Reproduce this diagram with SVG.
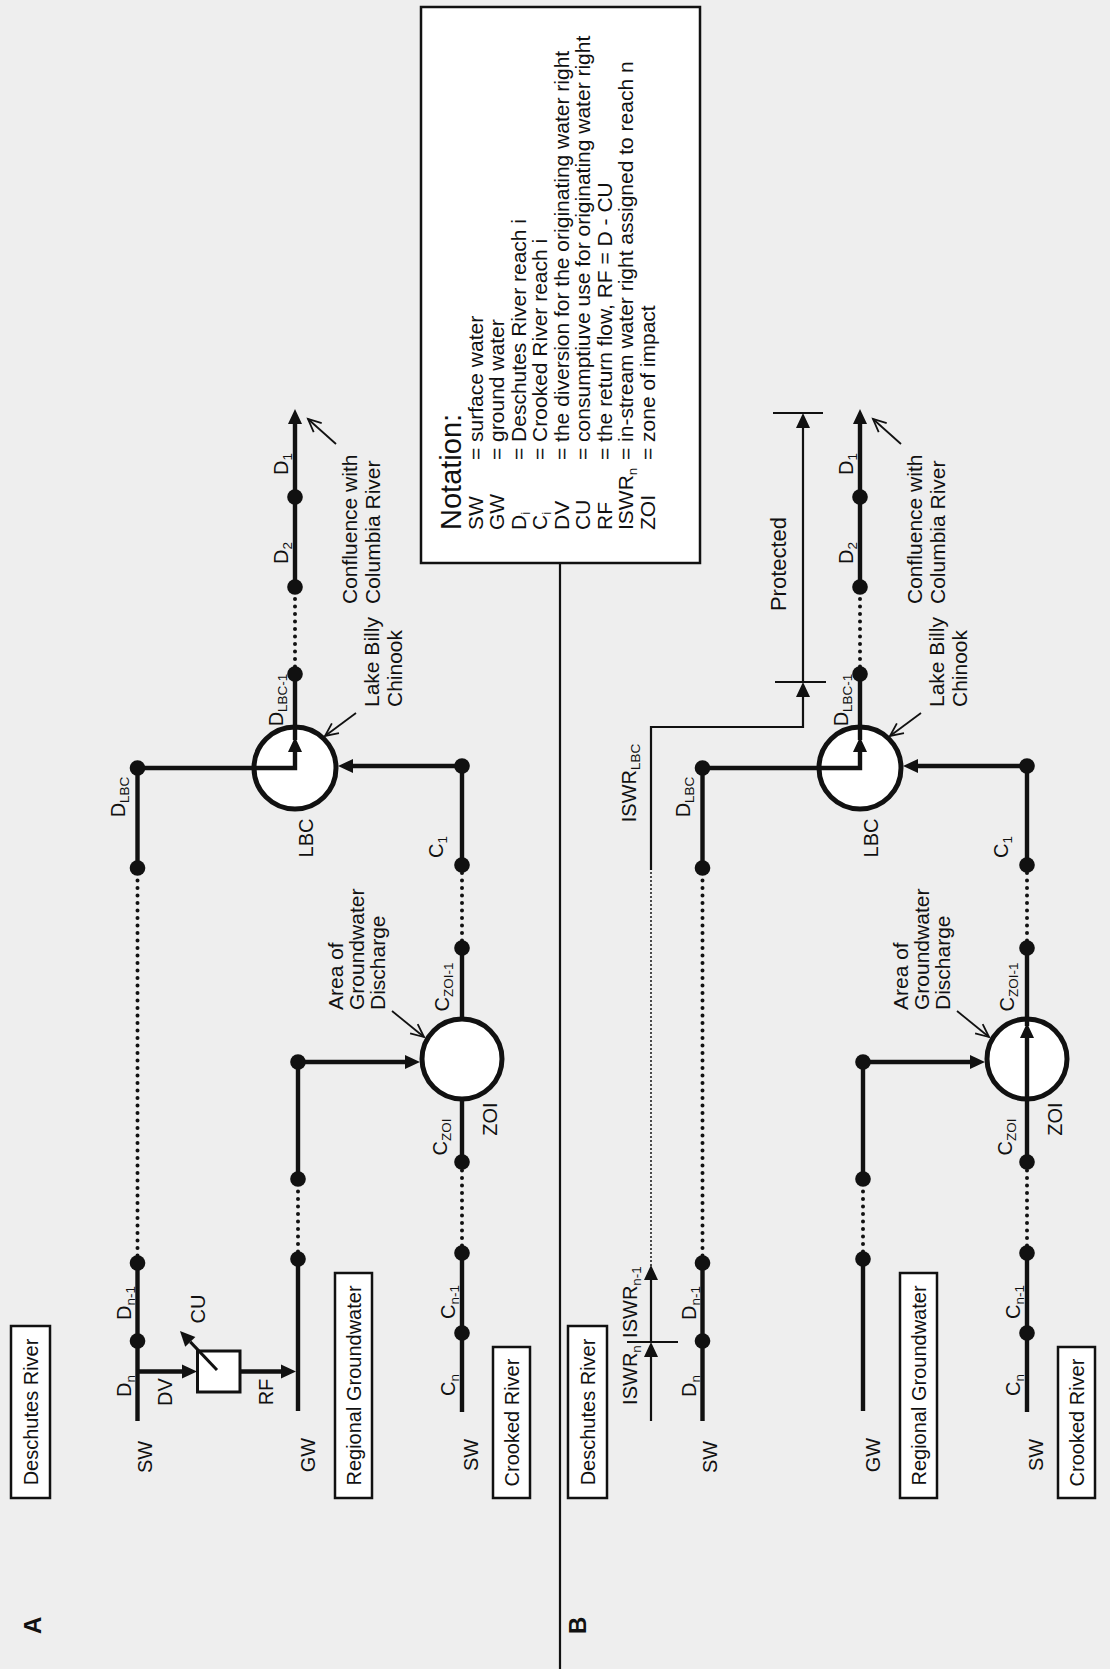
<svg xmlns="http://www.w3.org/2000/svg" width="1110" height="1669" viewBox="0 0 1110 1669">
<defs>
<style>
.ln{stroke:#111;stroke-width:4.4;fill:none}
.dt{stroke:#111;stroke-width:4;fill:none;stroke-dasharray:0 7.5;stroke-linecap:round}
.th{stroke:#111;stroke-width:2.2;fill:none}
.tdt{stroke:#111;stroke-width:2;fill:none;stroke-dasharray:0 4;stroke-linecap:round}
.ptr{stroke:#111;stroke-width:1.8;fill:none}
.nd{fill:#111}
.circ{fill:#fff;stroke:#111;stroke-width:5}
.bx{fill:#fff;stroke:#111;stroke-width:2.5}
.t{font-family:"Liberation Sans",Arial,sans-serif;font-size:20px;fill:#111}
.tb{font-size:20px}
.tl{font-size:21px}
.tn{font-size:21px}
.tt{font-size:29px}
.tp{font-size:22px}
.sub{font-size:13.5px}
.big{font-weight:bold;font-size:24px}
.m{text-anchor:middle}
</style>
<marker id="ah" markerUnits="userSpaceOnUse" markerWidth="16" markerHeight="14" refX="0" refY="7" orient="auto" overflow="visible"><path d="M0,0 L15,7 L0,14 Z" fill="#111"/></marker>
<marker id="op" markerUnits="userSpaceOnUse" markerWidth="14" markerHeight="14" refX="13" refY="6" orient="auto" overflow="visible"><path d="M0,0 L13,6 L0,12" fill="none" stroke="#111" stroke-width="1.8"/></marker>
</defs>
<rect x="0" y="0" width="1110" height="1669" fill="#eeeeee"/>

<!-- Notation box -->
<g id="notation">
<rect class="bx" x="421" y="7" width="279" height="556"/>
<text class="t tt" x="461" y="530" transform="rotate(-90 461 530)">Notation:</text>
<text class="t tn" x="482.5" y="530" transform="rotate(-90 482.5 530)">SW</text>
<text class="t tn" x="482.5" y="460" transform="rotate(-90 482.5 460)">= surface water</text>
<text class="t tn" x="504" y="530" transform="rotate(-90 504 530)">GW</text>
<text class="t tn" x="504" y="460" transform="rotate(-90 504 460)">= ground water</text>
<text class="t tn" x="525.5" y="530" transform="rotate(-90 525.5 530)">D<tspan class="sub" dy="4">i</tspan></text>
<text class="t tn" x="525.5" y="460" transform="rotate(-90 525.5 460)">= Deschutes River reach i</text>
<text class="t tn" x="547" y="530" transform="rotate(-90 547 530)">C<tspan class="sub" dy="4">i</tspan></text>
<text class="t tn" x="547" y="460" transform="rotate(-90 547 460)">= Crooked River reach i</text>
<text class="t tn" x="568.5" y="530" transform="rotate(-90 568.5 530)">DV</text>
<text class="t tn" x="568.5" y="460" transform="rotate(-90 568.5 460)">= the diversion for the originating water right</text>
<text class="t tn" x="590" y="530" transform="rotate(-90 590 530)">CU</text>
<text class="t tn" x="590" y="460" transform="rotate(-90 590 460)">= consumptiuve use for originating water right</text>
<text class="t tn" x="611.5" y="530" transform="rotate(-90 611.5 530)">RF</text>
<text class="t tn" x="611.5" y="460" transform="rotate(-90 611.5 460)">= the return flow, RF = D - CU</text>
<text class="t tn" x="633" y="530" transform="rotate(-90 633 530)">ISWR<tspan class="sub" dy="4">n</tspan></text>
<text class="t tn" x="633" y="460" transform="rotate(-90 633 460)">= in-stream water right assigned to reach n</text>
<text class="t tn" x="654.5" y="530" transform="rotate(-90 654.5 530)">ZOI</text>
<text class="t tn" x="654.5" y="460" transform="rotate(-90 654.5 460)">= zone of impact</text>
</g>

<!-- separator -->
<g id="separator"><line class="th" x1="560" y1="563" x2="560" y2="1669"/></g>

<!-- ============ PANEL A ============ -->
<g id="panel-a">
<g id="a-shapes">
<g id="a-lbc"><circle class="circ" cx="295" cy="768" r="41"/></g>
<g id="a-zoi"><circle class="circ" cx="462" cy="1059" r="40"/></g>
<g id="a-use"><rect class="bx" x="197.5" y="1351" width="42.5" height="41" style="stroke-width:3"/></g>
</g>
<g id="a-connectors">
<path class="ln" d="M137.5 1421 V1263"/>
<path class="dt" d="M137.5 1263 V868"/>
<path class="ln" d="M137.5 868 V768 H295 V752" marker-end="url(#ah)"/>
<path class="ln" d="M295 740 V674"/>
<path class="dt" d="M295 674 V587"/>
<path class="ln" d="M295 587 V424" marker-end="url(#ah)"/>
<path class="ln" d="M462 865 V766 H353" marker-end="url(#ah)"/>
<path class="ln" d="M462 1412 V1253"/>
<path class="dt" d="M462 1253 V1162"/>
<path class="ln" d="M462 1162 V1099"/>
<path class="ln" d="M462 1019 V948"/>
<path class="dt" d="M462 948 V865"/>
<path class="ln" d="M298 1411 V1259"/>
<path class="dt" d="M298 1259 V1179"/>
<path class="ln" d="M298 1179 V1062 H405" marker-end="url(#ah)"/>
<path class="ln" d="M137.5 1371.5 H182" marker-end="url(#ah)"/>
<path class="ln" d="M240 1371.5 H281" marker-end="url(#ah)"/>
<path class="ln" style="stroke-width:3" d="M217 1370 L190.3 1341.9" marker-end="url(#ah)"/>
<path class="ptr" d="M336 444 L308 419" marker-end="url(#op)"/>
<path class="ptr" d="M356 713 L325 736" marker-end="url(#op)"/>
<path class="ptr" d="M392 1011 L424 1037" marker-end="url(#op)"/>
</g>
<g id="a-nodes">
<circle class="nd" cx="137.5" cy="1341" r="7.8"/><circle class="nd" cx="137.5" cy="1263" r="7.8"/>
<circle class="nd" cx="137.5" cy="868" r="7.8"/><circle class="nd" cx="137.5" cy="768" r="7.8"/>
<circle class="nd" cx="295" cy="674" r="7.8"/><circle class="nd" cx="295" cy="587" r="7.8"/><circle class="nd" cx="295" cy="497" r="7.8"/>
<circle class="nd" cx="298" cy="1259" r="7.8"/><circle class="nd" cx="298" cy="1179" r="7.8"/><circle class="nd" cx="298" cy="1062" r="7.8"/>
<circle class="nd" cx="462" cy="1333" r="7.8"/><circle class="nd" cx="462" cy="1253" r="7.8"/><circle class="nd" cx="462" cy="1162" r="7.8"/>
<circle class="nd" cx="462" cy="948" r="7.8"/><circle class="nd" cx="462" cy="865" r="7.8"/><circle class="nd" cx="462" cy="766" r="7.8"/>
</g>
<g id="a-boxes">
<g id="a-deschutes"><rect class="bx" x="11" y="1326" width="39" height="172"/><text class="t tb m" x="37.5" y="1412" transform="rotate(-90 37.5 1412)">Deschutes River</text></g>
<g id="a-regional"><rect class="bx" x="335" y="1273" width="37" height="225"/><text class="t tb m" x="361" y="1385.5" transform="rotate(-90 361 1385.5)">Regional Groundwater</text></g>
<g id="a-crooked"><rect class="bx" x="493" y="1347" width="37" height="151"/><text class="t tb m" x="519" y="1422.5" transform="rotate(-90 519 1422.5)">Crooked River</text></g>
</g>
<g id="a-labels">
<text class="t big" x="41" y="1634" transform="rotate(-90 41 1634)">A</text>
<text class="t m" x="152" y="1457" transform="rotate(-90 152 1457)">SW</text>
<text class="t m" x="315" y="1455" transform="rotate(-90 315 1455)">GW</text>
<text class="t m" x="478" y="1455" transform="rotate(-90 478 1455)">SW</text>
<text class="t m" x="131" y="1386" transform="rotate(-90 131 1386)">D<tspan class="sub" dy="4">n</tspan></text>
<text class="t m" x="131" y="1303" transform="rotate(-90 131 1303)">D<tspan class="sub" dy="4">n-1</tspan></text>
<text class="t m" x="172" y="1392" transform="rotate(-90 172 1392)">DV</text>
<text class="t m" x="205" y="1309" transform="rotate(-90 205 1309)">CU</text>
<text class="t m" x="273" y="1392" transform="rotate(-90 273 1392)">RF</text>
<text class="t m" x="455" y="1385" transform="rotate(-90 455 1385)">C<tspan class="sub" dy="4">n</tspan></text>
<text class="t m" x="455" y="1302" transform="rotate(-90 455 1302)">C<tspan class="sub" dy="4">n-1</tspan></text>
<text class="t m" x="447" y="1137" transform="rotate(-90 447 1137)">C<tspan class="sub" dy="4">ZOI</tspan></text>
<text class="t m" x="497" y="1119" transform="rotate(-90 497 1119)">ZOI</text>
<text class="t m" x="449" y="987" transform="rotate(-90 449 987)">C<tspan class="sub" dy="4">ZOI-1</tspan></text>
<text class="t m" x="443" y="847" transform="rotate(-90 443 847)">C<tspan class="sub" dy="4">1</tspan></text>
<text class="t m" x="313" y="838" transform="rotate(-90 313 838)">LBC</text>
<text class="t m" x="125" y="797" transform="rotate(-90 125 797)">D<tspan class="sub" dy="4">LBC</tspan></text>
<text class="t m" x="283" y="700" transform="rotate(-90 283 700)">D<tspan class="sub" dy="4">LBC-1</tspan></text>
<text class="t m" x="288" y="553" transform="rotate(-90 288 553)">D<tspan class="sub" dy="4">2</tspan></text>
<text class="t m" x="288" y="464" transform="rotate(-90 288 464)">D<tspan class="sub" dy="4">1</tspan></text>
<text class="t tl" x="357" y="604" transform="rotate(-90 357 604)">Confluence with</text>
<text class="t tl" x="380" y="604" transform="rotate(-90 380 604)">Columbia River</text>
<text class="t tl" x="379" y="707" transform="rotate(-90 379 707)">Lake Billy</text>
<text class="t tl" x="402" y="707" transform="rotate(-90 402 707)">Chinook</text>
<text class="t tl" x="343" y="1010" transform="rotate(-90 343 1010)">Area of</text>
<text class="t tl" x="364" y="1010" transform="rotate(-90 364 1010)">Groundwater</text>
<text class="t tl" x="385" y="1010" transform="rotate(-90 385 1010)">Discharge</text>
</g>
</g>

<!-- ============ PANEL B ============ -->
<g id="panel-b" transform="translate(565 0)">
<g id="b-shapes">
<g id="b-lbc"><circle class="circ" cx="295" cy="768" r="41"/></g>
<g id="b-zoi"><circle class="circ" cx="462" cy="1059" r="40"/></g>
</g>
<g id="b-connectors">
<path class="ln" d="M137.5 1421 V1263"/>
<path class="dt" d="M137.5 1263 V868"/>
<path class="ln" d="M137.5 868 V768 H295 V752" marker-end="url(#ah)"/>
<path class="ln" d="M295 740 V674"/>
<path class="dt" d="M295 674 V587"/>
<path class="ln" d="M295 587 V424" marker-end="url(#ah)"/>
<path class="ln" d="M462 865 V766 H353" marker-end="url(#ah)"/>
<path class="ln" d="M462 1412 V1253"/>
<path class="dt" d="M462 1253 V1162"/>
<path class="ln" d="M462 1162 V1038" marker-end="url(#ah)"/>
<path class="ln" d="M462 1026 V948"/>
<path class="dt" d="M462 948 V865"/>
<path class="ln" d="M298 1411 V1259"/>
<path class="dt" d="M298 1259 V1179"/>
<path class="ln" d="M298 1179 V1062 H405" marker-end="url(#ah)"/>
<path class="th" d="M86 1421 V1357" marker-end="url(#ah)"/>
<path class="th" d="M62 1342 H113"/>
<path class="th" d="M86 1342 V1280" marker-end="url(#ah)"/>
<path class="tdt" d="M86 1265 V870"/>
<path class="th" d="M86 870 V727 H238 V697" marker-end="url(#ah)"/>
<path class="th" d="M210 682 H261"/>
<path class="th" d="M238 682 V428" marker-end="url(#ah)"/>
<path class="th" d="M208 413 H258"/>
<path class="ptr" d="M336 444 L308 419" marker-end="url(#op)"/>
<path class="ptr" d="M356 713 L325 736" marker-end="url(#op)"/>
<path class="ptr" d="M392 1011 L424 1037" marker-end="url(#op)"/>
</g>
<g id="b-nodes">
<circle class="nd" cx="137.5" cy="1341" r="7.8"/><circle class="nd" cx="137.5" cy="1263" r="7.8"/>
<circle class="nd" cx="137.5" cy="868" r="7.8"/><circle class="nd" cx="137.5" cy="768" r="7.8"/>
<circle class="nd" cx="295" cy="674" r="7.8"/><circle class="nd" cx="295" cy="587" r="7.8"/><circle class="nd" cx="295" cy="497" r="7.8"/>
<circle class="nd" cx="298" cy="1259" r="7.8"/><circle class="nd" cx="298" cy="1179" r="7.8"/><circle class="nd" cx="298" cy="1062" r="7.8"/>
<circle class="nd" cx="462" cy="1333" r="7.8"/><circle class="nd" cx="462" cy="1253" r="7.8"/><circle class="nd" cx="462" cy="1162" r="7.8"/>
<circle class="nd" cx="462" cy="948" r="7.8"/><circle class="nd" cx="462" cy="865" r="7.8"/><circle class="nd" cx="462" cy="766" r="7.8"/>
</g>
<g id="b-boxes">
<g id="b-deschutes"><rect class="bx" x="3" y="1326" width="39" height="172"/><text class="t tb m" x="29.5" y="1412" transform="rotate(-90 29.5 1412)">Deschutes River</text></g>
<g id="b-regional"><rect class="bx" x="335" y="1273" width="37" height="225"/><text class="t tb m" x="361" y="1385.5" transform="rotate(-90 361 1385.5)">Regional Groundwater</text></g>
<g id="b-crooked"><rect class="bx" x="493" y="1347" width="37" height="151"/><text class="t tb m" x="519" y="1422.5" transform="rotate(-90 519 1422.5)">Crooked River</text></g>
</g>
<g id="b-labels">
<text class="t big" x="21" y="1634" transform="rotate(-90 21 1634)">B</text>
<text class="t m" x="152" y="1457" transform="rotate(-90 152 1457)">SW</text>
<text class="t m" x="315" y="1455" transform="rotate(-90 315 1455)">GW</text>
<text class="t m" x="478" y="1455" transform="rotate(-90 478 1455)">SW</text>
<text class="t m" x="131" y="1386" transform="rotate(-90 131 1386)">D<tspan class="sub" dy="4">n</tspan></text>
<text class="t m" x="131" y="1303" transform="rotate(-90 131 1303)">D<tspan class="sub" dy="4">n-1</tspan></text>
<text class="t m" x="72" y="1375" transform="rotate(-90 72 1375)">ISWR<tspan class="sub" dy="4">n</tspan></text>
<text class="t m" x="72" y="1302" transform="rotate(-90 72 1302)">ISWR<tspan class="sub" dy="4">n-1</tspan></text>
<text class="t m" x="71" y="783" transform="rotate(-90 71 783)">ISWR<tspan class="sub" dy="4">LBC</tspan></text>
<text class="t tp m" x="221" y="564" transform="rotate(-90 221 564)">Protected</text>
<text class="t m" x="455" y="1385" transform="rotate(-90 455 1385)">C<tspan class="sub" dy="4">n</tspan></text>
<text class="t m" x="455" y="1302" transform="rotate(-90 455 1302)">C<tspan class="sub" dy="4">n-1</tspan></text>
<text class="t m" x="447" y="1137" transform="rotate(-90 447 1137)">C<tspan class="sub" dy="4">ZOI</tspan></text>
<text class="t m" x="497" y="1119" transform="rotate(-90 497 1119)">ZOI</text>
<text class="t m" x="449" y="987" transform="rotate(-90 449 987)">C<tspan class="sub" dy="4">ZOI-1</tspan></text>
<text class="t m" x="443" y="847" transform="rotate(-90 443 847)">C<tspan class="sub" dy="4">1</tspan></text>
<text class="t m" x="313" y="838" transform="rotate(-90 313 838)">LBC</text>
<text class="t m" x="125" y="797" transform="rotate(-90 125 797)">D<tspan class="sub" dy="4">LBC</tspan></text>
<text class="t m" x="283" y="700" transform="rotate(-90 283 700)">D<tspan class="sub" dy="4">LBC-1</tspan></text>
<text class="t m" x="288" y="553" transform="rotate(-90 288 553)">D<tspan class="sub" dy="4">2</tspan></text>
<text class="t m" x="288" y="464" transform="rotate(-90 288 464)">D<tspan class="sub" dy="4">1</tspan></text>
<text class="t tl" x="357" y="604" transform="rotate(-90 357 604)">Confluence with</text>
<text class="t tl" x="380" y="604" transform="rotate(-90 380 604)">Columbia River</text>
<text class="t tl" x="379" y="707" transform="rotate(-90 379 707)">Lake Billy</text>
<text class="t tl" x="402" y="707" transform="rotate(-90 402 707)">Chinook</text>
<text class="t tl" x="343" y="1010" transform="rotate(-90 343 1010)">Area of</text>
<text class="t tl" x="364" y="1010" transform="rotate(-90 364 1010)">Groundwater</text>
<text class="t tl" x="385" y="1010" transform="rotate(-90 385 1010)">Discharge</text>
</g>
</g>
</svg>
